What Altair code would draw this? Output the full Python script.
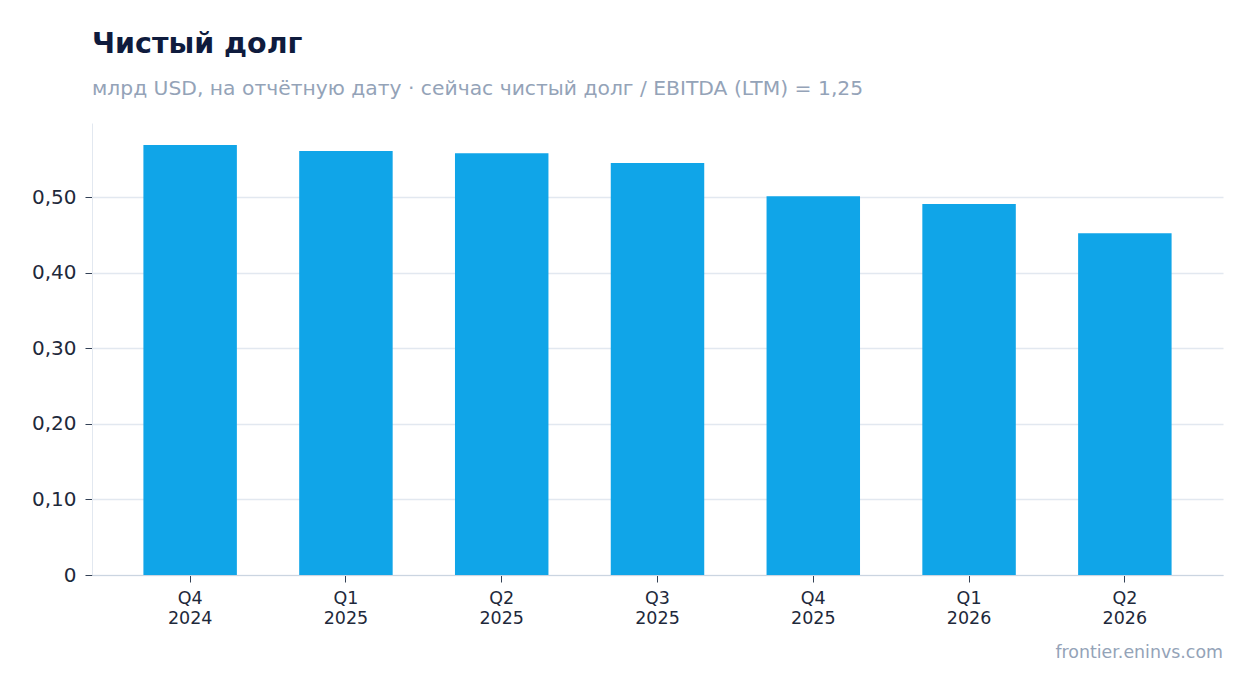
import altair as alt
import pandas as pd

quarters = ["Q4 2024", "Q1 2025", "Q2 2025", "Q3 2025", "Q4 2025", "Q1 2026", "Q2 2026"]
net_debt = [0.569, 0.561, 0.558, 0.545, 0.501, 0.491, 0.452]
footer = ["frontier.eninvs.com"]

df = pd.DataFrame({"q": quarters, "v": net_debt})
W, H = 1131, 452
FONT = "DejaVu Sans"

bars = alt.Chart(df).mark_bar(color="#10a5e8").encode(
    x=alt.X("q:N", sort=quarters, title=None,
            scale=alt.Scale(paddingInner=0.4, paddingOuter=0.33),
            axis=alt.Axis(labelAngle=0, labelExpr="split(datum.label, ' ')",
                          labelFontSize=17.5, labelColor="#1e293b", labelFont=FONT,
                          labelLineHeight=20, labelPadding=7,
                          tickColor="#334155", tickSize=7, domainColor="#cbd5e1",
                          grid=False)),
    y=alt.Y("v:Q", title=None,
            scale=alt.Scale(domain=[0, 0.598], nice=False),
            axis=alt.Axis(values=[0, 0.1, 0.2, 0.3, 0.4, 0.5],
                          labelExpr="datum.value == 0 ? '0' : replace(format(datum.value, '.2f'), '.', ',')",
                          labelFontSize=20, labelColor="#1e293b", labelFont=FONT,
                          labelPadding=9, tickColor="#334155", tickSize=7,
                          domainColor="#e2e8f0", gridColor="#e2e8f0", gridWidth=1.5)),
)

foot = alt.Chart(pd.DataFrame({"t": footer})).mark_text(
    align="right", baseline="alphabetic", fontSize=17.4, font=FONT, color="#94a3b8"
).encode(x=alt.value(W), y=alt.value(H + 83), text="t:N")

chart = alt.layer(bars, foot).properties(
    width=W, height=H,
    background="white",
    autosize=alt.AutoSizeParams(type="none"),
    padding={"left": 84, "top": 115, "right": 23, "bottom": 110},
    title=alt.TitleParams(
        "Чистый долг",
        subtitle="млрд USD, на отчётную дату · сейчас чистый долг / EBITDA (LTM) = 1,25",
        anchor="start", frame="group", font=FONT, fontSize=28.5, fontWeight="bold", color="#0f1b3d",
        subtitleFont=FONT, subtitleFontSize=20.3, subtitleColor="#94a3b8",
        subtitlePadding=20, offset=24,
    ),
).configure_view(strokeWidth=0)

chart.save("out.html", embed_options={"renderer": "svg", "actions": False})
